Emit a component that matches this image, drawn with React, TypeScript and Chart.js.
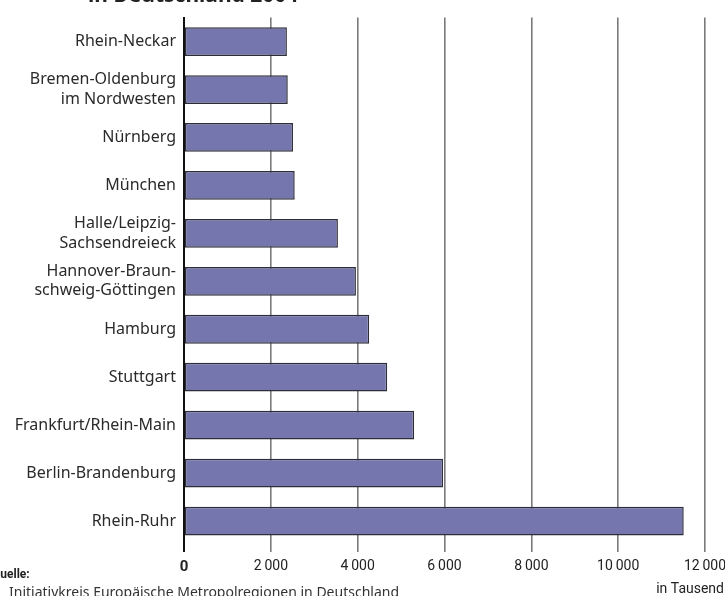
import React, { useEffect, useRef } from "react";
import { Chart, registerables } from "chart.js";

Chart.register(...registerables);

const categories: (string | string[])[] = [
  "Rhein-Neckar",
  ["Bremen-Oldenburg", "im Nordwesten"],
  "Nürnberg",
  "München",
  ["Halle/Leipzig-", "Sachsendreieck"],
  ["Hannover-Braun-", "schweig-Göttingen"],
  "Hamburg",
  "Stuttgart",
  "Frankfurt/Rhein-Main",
  "Berlin-Brandenburg",
  "Rhein-Ruhr",
];
const population = [2370, 2390, 2510, 2550, 3545, 3960, 4265, 4680, 5300, 5965, 11510];
const xTickValues = [0, 2000, 4000, 6000, 8000, 10000, 12000];
const xTickLabels = ["0", "2\u2009000", "4\u2009000", "6\u2009000", "8\u2009000", "10\u2009000", "12\u2009000"];
const titleText = "in Deutschland 2004";
const sourceHead = "Quelle:";
const sourceText = "Initiativkreis Europäische Metropolregionen in Deutschland";
const unitText = "in Tausend";

const condensed = "'Liberation Sans Narrow', 'Roboto', sans-serif";
const sans = "'Noto Sans', 'Open Sans', sans-serif";

export default function App() {
  const ref = useRef<HTMLCanvasElement | null>(null);
  useEffect(() => {
    if (!ref.current) return;
    const textPlugin = {
      id: "extraText",
      afterDraw(chart: any) {
        const ctx = chart.ctx;
        ctx.save();
        ctx.fillStyle = "#222";
        ctx.textBaseline = "alphabetic";
        ctx.textAlign = "left";
        ctx.font = `bold 21px ${sans}`;
        ctx.fillText(titleText, 88, 2);
        ctx.font = `bold 12px ${condensed}`;
        ctx.fillText(sourceHead, -8, 578);
        ctx.font = `14px ${sans}`;
        ctx.fillStyle = "#333";
        ctx.fillText(sourceText, 9, 597);
        ctx.font = `14px ${condensed}`;
        ctx.fillStyle = "#222";
        ctx.textAlign = "right";
        ctx.fillText(unitText, 724, 593);
        ctx.restore();
      },
    };
    const chart = new Chart(ref.current, {
      type: "bar",
      data: {
        labels: categories as any,
        datasets: [
          {
            data: population,
            backgroundColor: "#7476ad",
            borderColor: "#2e2e3a",
            borderWidth: 1.5,
            borderSkipped: false,
            barPercentage: 0.6,
            categoryPercentage: 1,
          },
        ],
      },
      options: {
        indexAxis: "y",
        animation: false,
        responsive: false,
        layout: { padding: { top: 15, right: 20, bottom: 0, left: 0 } },
        plugins: { legend: { display: false }, tooltip: { enabled: false }, title: { display: false } },
        scales: {
          x: {
            min: 0,
            max: 12000,
            afterBuildTicks: (axis: any) => {
              axis.ticks = xTickValues.map((v) => ({ value: v }));
            },
            afterFit: (axis: any) => {
              axis.height = 51;
              axis.paddingLeft = 0;
              axis.paddingRight = 0;
            },
            border: { display: false },
            grid: {
              color: (c: any) => (c.tick && c.tick.value === 0 ? "#111" : "#7a7a7a"),
              lineWidth: (c: any) => (c.tick && c.tick.value === 0 ? 2 : 1.6),
              tickLength: 7,
              drawOnChartArea: true,
            },
            ticks: {
              padding: 6,
              color: "#222",
              autoSkip: false,
              maxRotation: 0,
              callback: (v: any) => {
                const i = xTickValues.indexOf(Number(v));
                return i >= 0 ? xTickLabels[i] : "";
              },
              font: (c: any) =>
                c.tick && c.tick.value === 0
                  ? { family: condensed, size: 15, weight: "bold" }
                  : { family: condensed, size: 14 },
            },
          },
          y: {
            afterFit: (axis: any) => {
              axis.width = 184;
            },
            grid: { display: false, drawTicks: false },
            border: { display: true, color: "#111", width: 2 },
            ticks: {
              padding: 8,
              color: "#2a2a2a",
              autoSkip: false,
              font: { family: sans, size: 16, lineHeight: 1.2 },
            },
          },
        },
      },
      plugins: [textPlugin],
    } as any);
    return () => chart.destroy();
  }, []);
  return (
    <div style={{ position: "fixed", left: 0, top: 0, width: 725, height: 596, background: "#fff" }}>
      <canvas ref={ref} width={725} height={596} style={{ width: 725, height: 596, display: "block" }} />
    </div>
  );
}
